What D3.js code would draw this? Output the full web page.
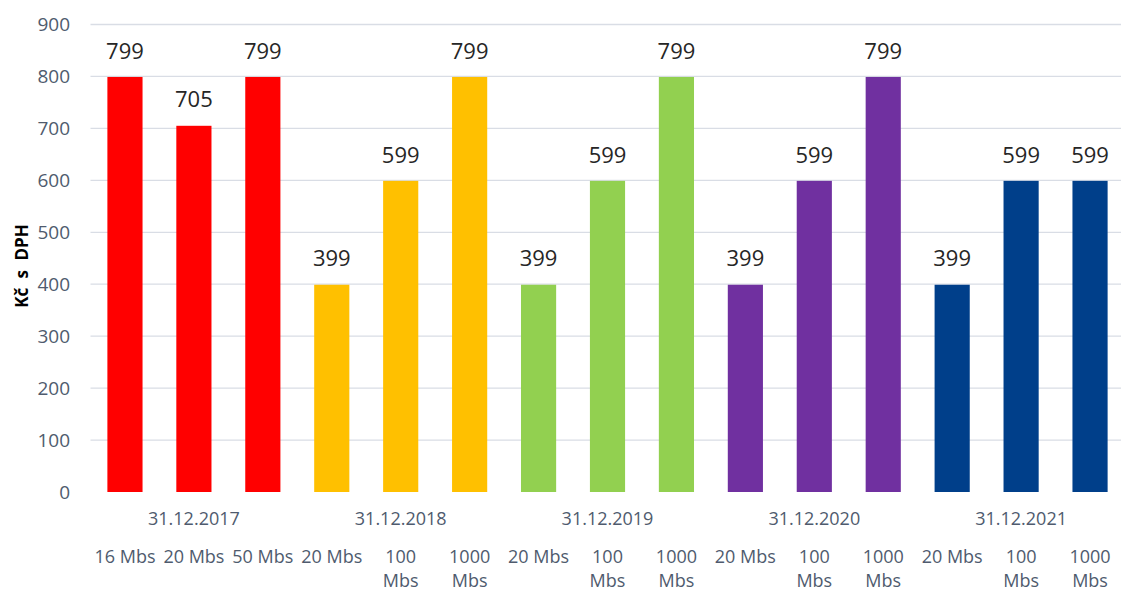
<!DOCTYPE html>
<html>
<head>
<meta charset="utf-8">
<script src="https://cdn.jsdelivr.net/npm/d3@7"></script>
<style>
  body { margin: 0; background: #fff; }
  text { font-family: "Open Sans", "Noto Sans", sans-serif; }
</style>
</head>
<body>
<svg id="chart" width="1121" height="592"></svg>
<script>
const groups = ['31.12.2017', '31.12.2018', '31.12.2019', '31.12.2020', '31.12.2021'];
const speeds = [
  ['16 Mbs', '20 Mbs', '50 Mbs'],
  ['20 Mbs', '100 Mbs', '1000 Mbs'],
  ['20 Mbs', '100 Mbs', '1000 Mbs'],
  ['20 Mbs', '100 Mbs', '1000 Mbs'],
  ['20 Mbs', '100 Mbs', '1000 Mbs']
];
const prices = [
  [799, 705, 799],
  [399, 599, 799],
  [399, 599, 799],
  [399, 599, 799],
  [399, 599, 599]
];
const groupColors = ['#ff0000', '#ffc000', '#92d050', '#7030a0', '#003f8a'];
const yTicks = [0, 100, 200, 300, 400, 500, 600, 700, 800, 900];
const yTitle = 'Kč s DPH';

const svg = d3.select('#chart');
const width = 1121, height = 592;
const margin = { top: 24.5, bottom: 100, left: 90.5, right: -3.5 };
const axisColor = '#4f5b6e';

// flatten into one bar per row
const bars = [];
groups.forEach((g, gi) => {
  speeds[gi].forEach((s, si) => {
    bars.push({ key: gi + '-' + si, group: g, gi, speed: s, value: prices[gi][si] });
  });
});

const x = d3.scaleBand(bars.map(d => d.key), [margin.left, width - margin.right])
  .paddingInner(0.49).paddingOuter(0.245);
const y = d3.scaleLinear([0, 900], [height - margin.bottom, margin.top]);
const step = x.step();

// grid
svg.append('g')
  .selectAll('line')
  .data(yTicks.slice(1))
  .join('line')
    .attr('x1', margin.left)
    .attr('x2', width)
    .attr('y1', d => y(d))
    .attr('y2', d => y(d))
    .attr('stroke', '#d9dde5')
    .attr('stroke-width', 1.3);

// y tick labels
svg.append('g')
  .selectAll('text')
  .data(yTicks)
  .join('text')
    .attr('x', 70)
    .attr('y', d => y(d))
    .attr('dy', '0.35em')
    .attr('text-anchor', 'end')
    .attr('font-size', 19)
    .attr('fill', axisColor)
    .text(d => d);

// y title
svg.append('text')
  .attr('transform', `translate(22, ${y(435)}) rotate(-90)`)
  .attr('dy', '0.35em')
  .attr('text-anchor', 'middle')
  .attr('font-size', 17)
  .attr('font-weight', 700)
  .attr('word-spacing', 5)
  .attr('fill', '#000')
  .text(yTitle);

// bars
svg.append('g')
  .selectAll('rect')
  .data(bars)
  .join('rect')
    .attr('x', d => x(d.key))
    .attr('width', x.bandwidth())
    .attr('y', d => y(d.value))
    .attr('height', d => y(0) - y(d.value))
    .attr('fill', d => groupColors[d.gi]);

// value labels
svg.append('g')
  .selectAll('text')
  .data(bars)
  .join('text')
    .attr('x', d => x(d.key) + x.bandwidth() / 2)
    .attr('y', d => y(d.value) - 26)
    .attr('dy', '0.35em')
    .attr('text-anchor', 'middle')
    .attr('font-size', 22)
    .attr('fill', '#262626')
    .text(d => d.value);

// group labels
svg.append('g')
  .selectAll('text')
  .data(groups)
  .join('text')
    .attr('x', (d, gi) => x(gi + '-1') + x.bandwidth() / 2)
    .attr('y', 519)
    .attr('dy', '0.35em')
    .attr('text-anchor', 'middle')
    .attr('font-size', 18)
    .attr('fill', axisColor)
    .text(d => d);

// speed labels, wrapped like excel when too wide
const speedG = svg.append('g');
bars.forEach(d => {
  const cx = x(d.key) + x.bandwidth() / 2;
  const t = speedG.append('text')
    .attr('x', cx)
    .attr('y', 557)
    .attr('dy', '0.35em')
    .attr('text-anchor', 'middle')
    .attr('font-size', 18)
    .attr('fill', axisColor)
    .text(d.speed);
  if (t.node().getComputedTextLength() > step - 4) {
    const parts = d.speed.split(' ');
    t.text(null);
    parts.forEach((p, i) => {
      t.append('tspan')
        .attr('x', cx)
        .attr('dy', i === 0 ? '0.35em' : '1.3em')
        .text(p);
    });
  }
});
</script>
</body>
</html>
